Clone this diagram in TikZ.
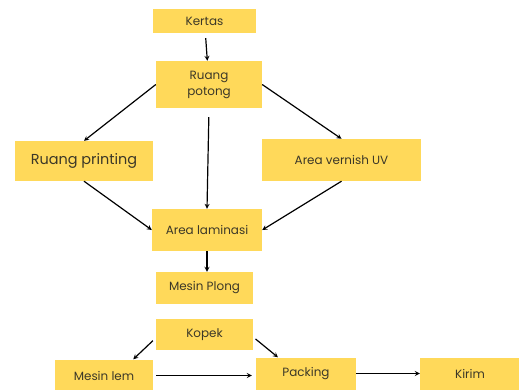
\documentclass[tikz,border=0pt]{standalone}
\usepackage{fontspec}
\setmainfont{Poppins}
\usetikzlibrary{arrows}
\definecolor{boxyellow}{RGB}{255,217,90}
\definecolor{boxtext}{RGB}{60,56,40}
\tikzstyle{station} = [
    rectangle,
    inner sep=0pt,
    text centered,
    draw=none,
    fill=boxyellow,
    text=boxtext,
    font=\fontsize{12}{16}\selectfont
]
\tikzstyle{arrow} = [
    line width=1.2pt,
    ->,
    >=stealth
]
\begin{document}
\begin{tikzpicture}[x=1bp, y=1bp, node distance=20bp, >=stealth]
        \useasboundingbox (0,0) rectangle (519,-389);
        \node (kertas) [station, minimum width=103bp, minimum height=24bp] at (204.5,-21) {Kertas};
        \node (potong) [station, minimum width=106bp, minimum height=47bp, align=center, below of=kertas, yshift=-43.5bp, xshift=4.5bp] {Ruang\\potong};
        \node (printing) [station, minimum width=138bp, minimum height=40bp, below of=potong, yshift=-56.5bp, xshift=-125bp, font=\fontsize{14.5}{17}\selectfont] {Ruang printing};
        \node (vernish) [station, minimum width=159bp, minimum height=42bp, below of=potong, yshift=-55.5bp, xshift=132.5bp] {Area vernish UV};
        \node (laminasi) [station, minimum width=110bp, minimum height=42bp, below of=potong, yshift=-125.5bp, xshift=-2bp] {Area laminasi};
        \node (plong) [station, minimum width=97bp, minimum height=32bp, below of=laminasi, yshift=-38bp, xshift=-2.5bp] {Mesin Plong};
        \node (kopek) [station, minimum width=97bp, minimum height=31bp, below of=plong, yshift=-26.5bp] {Kopek};
        \node (lem) [station, minimum width=98bp, minimum height=32bp, below of=kopek, yshift=-21bp, xshift=-100.5bp] {Mesin lem};
        \node (packing) [station, minimum width=100bp, minimum height=32bp, right of=lem, xshift=182bp, yshift=2bp] {Packing};
        \node (kirim) [station, minimum width=100bp, minimum height=32bp, right of=packing, xshift=144bp] {Kirim};

        \draw[arrow, shorten <=5bp] (kertas) -- (potong);
        \draw[arrow] (potong.west) -- (printing.north);
        \draw[arrow] (potong.east) -- (vernish.north);
        \draw[arrow, shorten <=9bp] (potong.south) -- (laminasi.north);
        \draw[arrow] (printing.south) -- (laminasi.west);
        \draw[arrow] (vernish.south) -- (laminasi.east);
        \draw[arrow] (laminasi.south) -- (laminasi.south |- plong.north);
        \draw[arrow, shorten <=4bp] (kopek.184) -- (lem.29);
        \draw[arrow, shorten <=3bp] (kopek.-3) -- (packing.150);
        \draw[arrow, shorten <=3bp, shorten >=4bp] (lem.east) -- (lem.east -| packing.west);
        \draw[arrow] (packing) -- (kirim);
    \end{tikzpicture}
\end{document}
